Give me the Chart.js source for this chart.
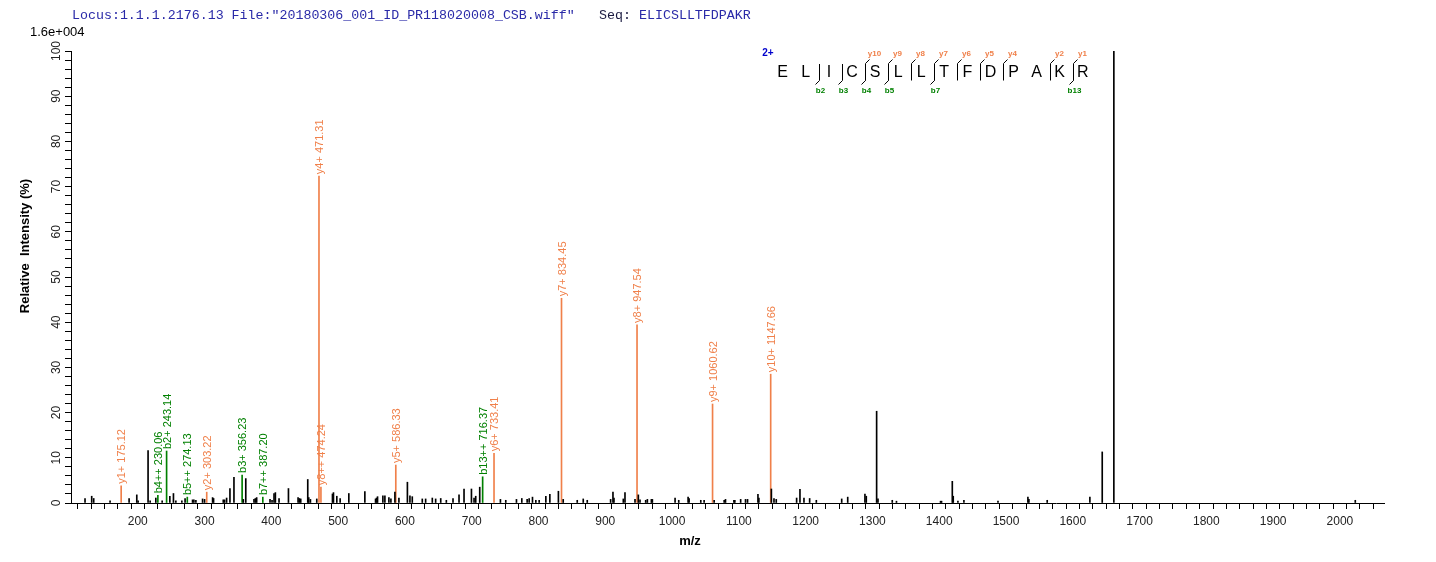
<!DOCTYPE html>
<html>
<head>
<meta charset="utf-8">
<script src="https://cdn.jsdelivr.net/npm/chart.js@4.4.1/dist/chart.umd.min.js"></script>
<style>
  html, body { margin: 0; padding: 0; background: #fff; }
</style>
</head>
<body>
<canvas id="chart" width="1436" height="562"></canvas>
<script>
// peaks without assignment (m/z, relative intensity %)
const peakMz = [121, 131, 134, 158.5, 187, 198.5, 200.5, 215.4, 218.5, 227, 236.5, 248, 253.4, 257, 266, 270.8,
  282, 284, 287, 297, 300, 312, 313.5, 328, 330, 333, 338, 344, 358, 361.7, 374, 376, 378, 398, 401, 404, 406,
  411.5, 425.6, 440, 442, 444, 454.5, 456, 458.5, 468, 491.5, 493, 498, 503, 516, 540, 556, 557.5, 559, 567, 570,
  576, 579, 585, 591, 603.7, 607.5, 611, 626, 631, 641, 646, 653.6, 662, 672, 681, 688.5, 699.6, 703.5, 706, 712,
  743, 751, 767, 775, 783, 786, 791, 796, 801, 811, 817, 829.8, 837, 858, 867, 873, 908, 911.5, 913, 927, 929.5,
  944.5, 949.5, 952, 960.5, 963, 969, 970.5, 1004.5, 1010, 1024, 1025.5, 1043, 1048, 1063, 1078, 1080, 1092.6,
  1094, 1102.7, 1110, 1113, 1128.6, 1130, 1148.7, 1152.6, 1156, 1186.5, 1191.5, 1197.5, 1206, 1216, 1254, 1263,
  1288.8, 1290.8, 1306.3, 1308.3, 1329.7, 1336, 1402, 1403.5, 1419.6, 1421, 1428, 1437, 1488, 1532.8, 1534.3,
  1561.7, 1625.6, 1644.1, 1661.5, 2023];
const peakInt = [1.0, 1.5, 1.0, 0.5, 1.0, 1.8, 0.5, 11.6, 0.5, 1.1, 0.5, 1.5, 2.1, 0.5, 0.5, 1.0,
  0.7, 0.7, 0.6, 0.9, 0.8, 1.2, 1.0, 0.7, 0.7, 1.1, 3.2, 5.7, 0.8, 5.4, 0.8, 1.0, 1.2, 0.8, 0.6, 2.1, 2.3,
  1.0, 3.2, 1.2, 1.0, 0.9, 5.2, 1.2, 0.8, 0.9, 2.0, 2.3, 1.5, 1.0, 2.1, 2.5, 0.9, 1.1, 1.4, 1.6, 1.6,
  1.2, 0.9, 2.4, 1.1, 4.6, 1.6, 1.4, 0.9, 0.9, 1.1, 0.9, 1.0, 0.6, 1.0, 1.8, 3.1, 3.1, 1.1, 1.5, 3.5,
  0.8, 0.6, 0.8, 1.0, 0.8, 1.0, 1.3, 0.6, 0.6, 1.5, 1.9, 2.6, 0.8, 0.6, 0.9, 0.6, 0.8, 2.4, 1.1, 0.9, 2.3,
  0.8, 1.8, 0.7, 0.6, 0.8, 0.8, 0.8, 1.1, 0.6, 1.3, 1.0, 0.6, 0.6, 0.6, 0.6, 0.8, 0.6,
  0.6, 0.8, 0.8, 0.8, 1.9, 1.1, 3.1, 1.0, 0.8, 1.1, 3.0, 1.1, 1.0, 0.6, 0.9, 1.3,
  2.0, 1.5, 20.3, 0.9, 0.6, 0.4, 0.4, 0.4, 4.8, 1.5, 0.4, 0.6, 0.4, 1.3, 0.8,
  0.6, 1.3, 11.3, 100, 0.6];

// y ions
const yIonNames = ['y1+', 'y2+', 'y4+', 'y8++', 'y5+', 'y6+', 'y7+', 'y8+', 'y9+', 'y10+'];
const yIonMz = [175.12, 303.22, 471.31, 474.24, 586.33, 733.41, 834.45, 947.54, 1060.62, 1147.66];
const yIonInt = [3.8, 2.4, 72.3, 3.5, 8.4, 11.0, 45.3, 39.4, 21.9, 28.5];

// b ions
const bIonNames = ['b4++', 'b2+', 'b5++', 'b3+', 'b7++', 'b13++'];
const bIonMz = [230.06, 243.14, 274.13, 356.23, 387.20, 716.37];
const bIonInt = [1.7, 11.5, 1.3, 6.2, 1.3, 5.8];

// axes
const xTickLabels = [200, 300, 400, 500, 600, 700, 800, 900, 1000, 1100, 1200, 1300, 1400, 1500, 1600, 1700, 1800, 1900, 2000];
const yTickLabels = [0, 10, 20, 30, 40, 50, 60, 70, 80, 90, 100];

// peptide
const sequence = 'ELICSLLTFDPAKR';
const bMarks = [2, 3, 4, 5, 7, 13];
const yMarks = [10, 9, 8, 7, 6, 5, 4, 2, 1];
const charge = '2+';

const headerLocus = 'Locus:1.1.1.2176.13 File:"20180306_001_ID_PR118020008_CSB.wiff"';
const headerSeq = 'ELICSLLTFDPAKR';
const maxIntensity = '1.6e+004';

const ORANGE = '#f0804a';
const GREEN = '#008000';

const toPoints = (mz, inten) => mz.map((m, i) => ({ x: m, y: inten[i] }));

const textPlugin = {
  id: 'texts',
  afterDraw(chart) {
    const ctx = chart.ctx;
    const ys = chart.scales.y;
    ctx.save();

    // ion labels above peaks
    const ionLabels = (dsIndex, names, mzs, color) => {
      const meta = chart.getDatasetMeta(dsIndex);
      ctx.fillStyle = color;
      ctx.font = '11px Arial';
      ctx.textAlign = 'left';
      ctx.textBaseline = 'middle';
      meta.data.forEach((bar, i) => {
        ctx.save();
        ctx.translate(bar.x + 1, bar.y - 2);
        ctx.rotate(-Math.PI / 2);
        ctx.fillText(names[i] + ' ' + mzs[i].toFixed(2), 0, 0);
        ctx.restore();
      });
    };
    ionLabels(1, yIonNames, yIonMz, ORANGE);
    ionLabels(2, bIonNames, bIonMz, GREEN);

    // y tick labels (rotated)
    ctx.fillStyle = '#222';
    ctx.font = '12px Arial';
    ctx.textAlign = 'center';
    ctx.textBaseline = 'middle';
    yTickLabels.forEach(v => {
      ctx.save();
      ctx.translate(57, ys.getPixelForValue(v));
      ctx.rotate(-Math.PI / 2);
      ctx.fillText(String(v), 0, 0);
      ctx.restore();
    });

    // axis titles
    ctx.fillStyle = '#000';
    ctx.font = 'bold 13px Arial';
    ctx.save();
    ctx.translate(25, 246);
    ctx.rotate(-Math.PI / 2);
    ctx.fillText('Relative  Intensity (%)', 0, 0);
    ctx.restore();
    ctx.fillText('m/z', 690, 541);

    // max intensity
    ctx.font = '13px Arial';
    ctx.textAlign = 'left';
    ctx.fillText(maxIntensity, 30, 32);

    // header line
    ctx.font = '13.3px "Liberation Mono"';
    ctx.fillStyle = '#2a2aa8';
    ctx.fillText(headerLocus, 72, 15);
    ctx.fillStyle = '#1a1a40';
    ctx.fillText('Seq:', 599, 15);
    ctx.fillStyle = '#2a2aa8';
    ctx.fillText(headerSeq, 639, 15);

    // peptide with fragment marks
    const x0 = 782.7, step = 23.08, rowY = 72.5;
    ctx.fillStyle = '#000';
    ctx.font = '16px Arial';
    ctx.textAlign = 'center';
    sequence.split('').forEach((aa, i) => ctx.fillText(aa, x0 + i * step, rowY));

    const markX = i => Math.round(x0 + i * step + 13) + 0.5;
    ctx.strokeStyle = '#000';
    ctx.lineWidth = 1;
    ctx.font = 'bold 8px Arial';
    bMarks.forEach(n => {
      const x = markX(n - 1);
      ctx.beginPath();
      ctx.moveTo(x, 64);
      ctx.lineTo(x, 80.5);
      ctx.lineTo(x - 4, 84.5);
      ctx.stroke();
      ctx.fillStyle = GREEN;
      ctx.fillText('b' + n, x + 1, 91);
    });
    yMarks.forEach(n => {
      const x = markX(sequence.length - 1 - n);
      ctx.beginPath();
      ctx.moveTo(x, 80.5);
      ctx.lineTo(x, 63.5);
      ctx.lineTo(x + 4, 59.5);
      ctx.stroke();
      ctx.fillStyle = ORANGE;
      ctx.fillText('y' + n, x + 9, 54);
    });

    ctx.fillStyle = '#0000cc';
    ctx.font = 'bold 10px Arial';
    ctx.fillText(charge, 768, 53);

    ctx.restore();
  }
};

const barDefaults = { barThickness: 1, grouped: false, borderWidth: 0 };

new Chart(document.getElementById('chart'), {
  type: 'bar',
  data: {
    datasets: [
      { ...barDefaults, label: 'peaks', data: toPoints(peakMz, peakInt), backgroundColor: '#000' },
      { ...barDefaults, label: 'y ions', data: toPoints(yIonMz, yIonInt), backgroundColor: ORANGE },
      { ...barDefaults, label: 'b ions', data: toPoints(bIonMz, bIonInt), backgroundColor: GREEN },
    ],
  },
  options: {
    responsive: false,
    animation: false,
    layout: { padding: { top: 51, right: 52, left: 0, bottom: 0 } },
    plugins: { legend: { display: false }, tooltip: { enabled: false } },
    scales: {
      x: {
        type: 'linear',
        min: 100,
        max: 2066,
        offset: false,
        afterFit: s => { s.height = 59; },
        afterBuildTicks: s => { s.ticks = s.ticks.filter(t => t.value % 20 === 0); },
        ticks: {
          stepSize: 20,
          autoSkip: false,
          maxRotation: 0,
          padding: 5,
          color: '#222',
          font: { family: 'Arial', size: 12 },
          callback: v => (xTickLabels.includes(v) ? String(v) : ''),
        },
        grid: { drawOnChartArea: false, drawTicks: true, tickLength: 6, color: '#000' },
        border: { display: true, color: '#000' },
      },
      y: {
        min: 0,
        max: 100,
        afterFit: s => { s.width = 71; },
        ticks: { stepSize: 2, autoSkip: false, callback: () => '' },
        grid: { drawOnChartArea: false, drawTicks: true, tickLength: 6, color: '#000' },
        border: { display: true, color: '#000' },
      },
    },
  },
  plugins: [textPlugin],
});
</script>
</body>
</html>
